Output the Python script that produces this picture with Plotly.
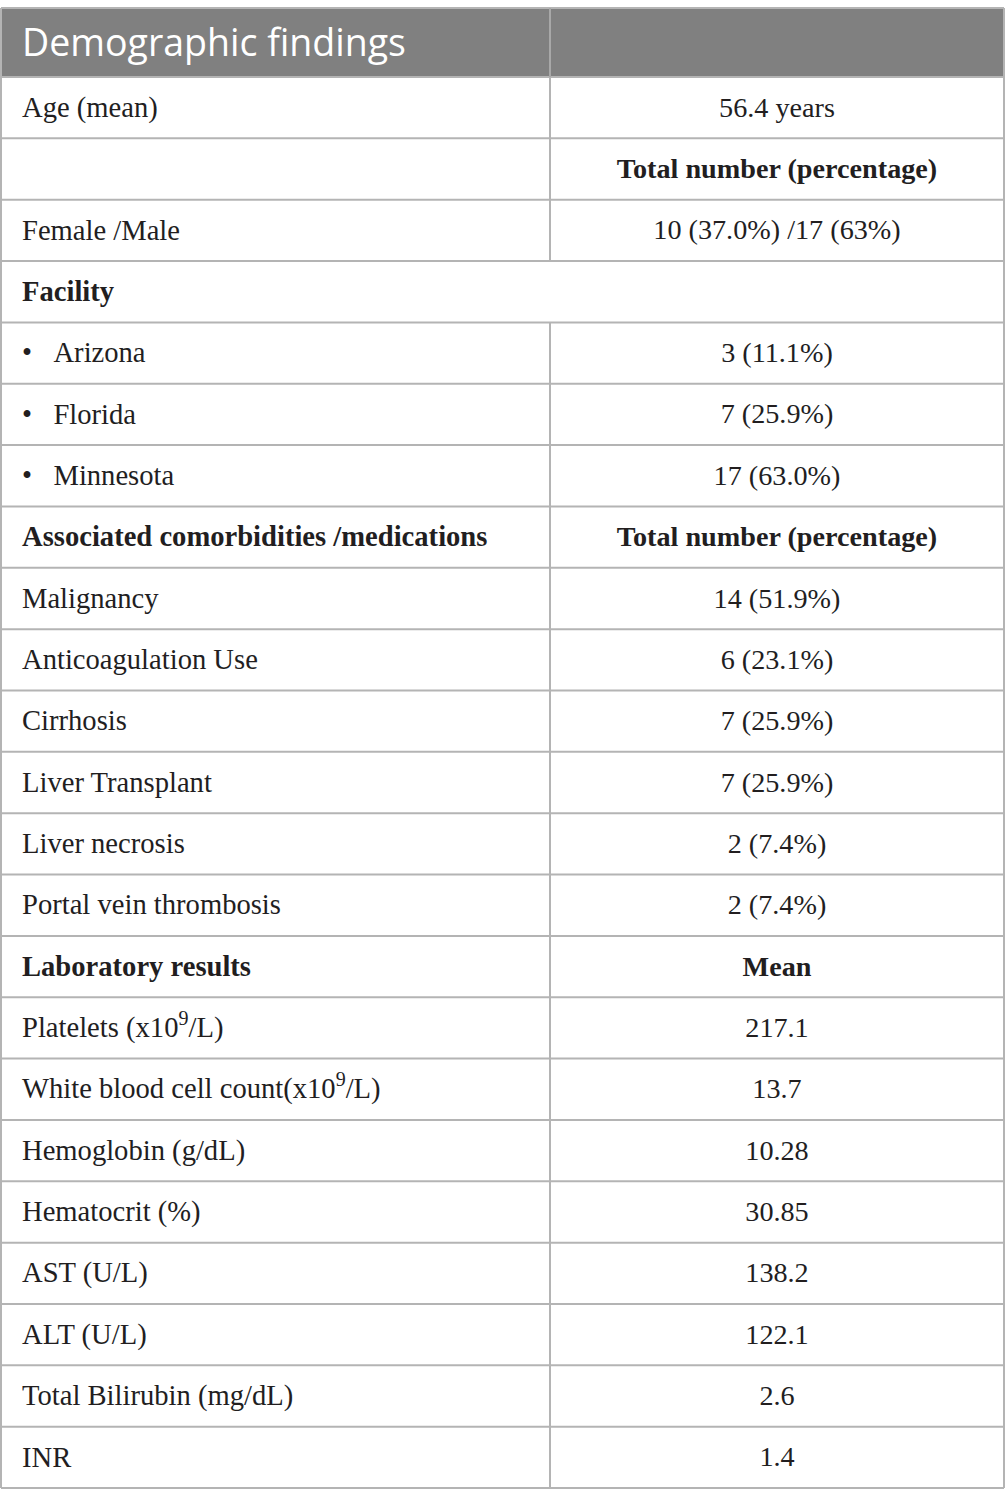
import plotly.graph_objects as go

header = ["Demographic findings", ""]

labels = [
    "Age (mean)",
    "",
    "Female /Male",
    "<b>Facility</b>",
    "•\u2002\u2005Arizona",
    "•\u2002\u2005Florida",
    "•\u2002\u2005Minnesota",
    "<b>Associated comorbidities /medications</b>",
    "Malignancy",
    "Anticoagulation Use",
    "Cirrhosis",
    "Liver Transplant",
    "Liver necrosis",
    "Portal vein thrombosis",
    "<b>Laboratory results</b>",
    "Platelets (x10<sup>9</sup>/L)",
    "White blood cell count(x10<sup>9</sup>/L)",
    "Hemoglobin (g/dL)",
    "Hematocrit (%)",
    "AST (U/L)",
    "ALT (U/L)",
    "Total Bilirubin (mg/dL)",
    "INR",
]

values = [
    "56.4 years",
    "<b>Total number (percentage)</b>",
    "10 (37.0%) /17 (63%)",
    "",
    "3 (11.1%)",
    "7 (25.9%)",
    "17 (63.0%)",
    "<b>Total number (percentage)</b>",
    "14 (51.9%)",
    "6 (23.1%)",
    "7 (25.9%)",
    "7 (25.9%)",
    "2 (7.4%)",
    "2 (7.4%)",
    "<b>Mean</b>",
    "217.1",
    "13.7",
    "10.28",
    "30.85",
    "138.2",
    "122.1",
    "2.6",
    "1.4",
]

# rows whose label spans both columns
merged_rows = [3]

# layout geometry (pixels)
W, H = 1005, 1507
top = 8
header_h = 69
row_h = 61.35
x_left, x_split, x_right = 1, 550, 1004
pad = 22
line_col = "#b4b4b4"
head_col = "#808080"
text_col = "#221e1f"

n = len(labels)
edges = [top, top + header_h] + [top + header_h + row_h * (i + 1) for i in range(n)]
centers = [(edges[i + 1] + edges[i + 2]) / 2 + 2 for i in range(n)]
bottom = edges[-1]

left_y = [c for c, t in zip(centers, labels) if t]
left_t = [t for t in labels if t]
right_y = [c for c, t in zip(centers, values) if t]
right_t = [t for t in values if t]

fig = go.Figure()

# header text
fig.add_trace(go.Scatter(
    x=[pad], y=[(edges[0] + edges[1]) / 2 + 4], text=[header[0]],
    mode="text", textposition="middle right",
    textfont=dict(family="Open Sans", size=37.5, color="white"),
    hoverinfo="skip",
))

fig.add_trace(go.Scatter(
    x=[pad] * len(left_t), y=left_y, text=left_t,
    mode="text", textposition="middle right",
    textfont=dict(family="Liberation Serif", size=28.6, color=text_col),
    hoverinfo="skip",
))

fig.add_trace(go.Scatter(
    x=[(x_split + x_right) / 2] * len(right_t), y=right_y, text=right_t,
    mode="text", textposition="middle center",
    textfont=dict(family="Liberation Serif", size=28.2, color=text_col),
    hoverinfo="skip",
))

shapes = []
# header fill
shapes.append(dict(type="rect", xref="x", yref="y", x0=x_left, x1=x_right,
                   y0=edges[0], y1=edges[1], fillcolor=head_col, line_width=0,
                   layer="below"))
# horizontal lines
for e in edges:
    shapes.append(dict(type="line", xref="x", yref="y", x0=x_left, x1=x_right,
                       y0=e, y1=e, line=dict(color=line_col, width=2)))
# outer verticals
for xv in (x_left, x_right):
    shapes.append(dict(type="line", xref="x", yref="y", x0=xv, x1=xv,
                       y0=top, y1=bottom, line=dict(color=line_col, width=2)))
# column split, skipping merged rows
shapes.append(dict(type="line", xref="x", yref="y", x0=x_split, x1=x_split,
                   y0=edges[0], y1=edges[1], line=dict(color="#a8a8a8", width=2)))
for i in range(n):
    if i in merged_rows:
        continue
    shapes.append(dict(type="line", xref="x", yref="y", x0=x_split, x1=x_split,
                       y0=edges[i + 1], y1=edges[i + 2],
                       line=dict(color=line_col, width=2)))

fig.update_layout(
    width=W, height=H,
    margin=dict(l=0, r=0, t=0, b=0),
    paper_bgcolor="white", plot_bgcolor="white",
    showlegend=False,
    shapes=shapes,
    xaxis=dict(range=[0, W], visible=False, fixedrange=True),
    yaxis=dict(range=[H, 0], visible=False, fixedrange=True),
)

fig.write_html("out.html", config={"displayModeBar": False},
               post_script="document.body.style.margin='0';document.body.style.overflow='hidden';")
